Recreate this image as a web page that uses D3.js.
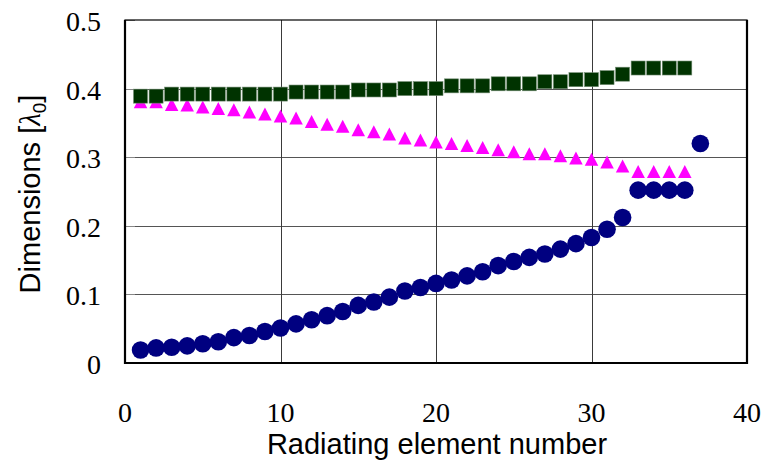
<!DOCTYPE html>
<html>
<head>
    <script src="https://cdnjs.cloudflare.com/ajax/libs/d3/7.8.5/d3.min.js"></script>
    <style>
        body { margin: 0; background: #fff; }
        .tick-label { font-size: 28px; fill: #000; }
        .axis-title { font-family: "Liberation Sans", Arial, sans-serif; font-size: 29px; fill: #000; }
        .grid { stroke: #3a3a3a; stroke-width: 1px; shape-rendering: crispEdges; }
    </style>
</head>
<body>
    <div id="chart"></div>
    <script>
        const width = 764, height = 463;
        const margin = { top: 20, right: 17, bottom: 100, left: 125 };

        // element numbers
        const elemCircle = [1,2,3,4,5,6,7,8,9,10,11,12,13,14,15,16,17,18,19,20,21,22,23,24,25,26,27,28,29,30,31,32,33,34,35,36,37];
        const elemOther = [1,2,3,4,5,6,7,8,9,10,11,12,13,14,15,16,17,18,19,20,21,22,23,24,25,26,27,28,29,30,31,32,33,34,35,36];

        // dimensions in wavelengths
        const circleVals = [0.019,0.022,0.023,0.025,0.028,0.031,0.037,0.040,0.046,0.051,0.057,0.063,0.069,0.075,0.084,0.089,0.096,0.105,0.110,0.116,0.121,0.127,0.133,0.142,0.148,0.154,0.159,0.166,0.174,0.183,0.195,0.212,0.252,0.252,0.252,0.252,0.320];
        const triangleVals = [0.381,0.381,0.377,0.376,0.373,0.371,0.369,0.366,0.363,0.360,0.357,0.352,0.348,0.345,0.340,0.337,0.334,0.328,0.325,0.322,0.320,0.317,0.314,0.311,0.308,0.305,0.305,0.302,0.299,0.297,0.293,0.287,0.279,0.279,0.279,0.279];
        const squareVals = [0.389,0.389,0.392,0.392,0.392,0.392,0.392,0.392,0.392,0.392,0.395,0.395,0.395,0.395,0.398,0.398,0.398,0.400,0.400,0.400,0.404,0.404,0.404,0.407,0.407,0.407,0.410,0.410,0.413,0.413,0.416,0.421,0.430,0.430,0.430,0.430];

        const xTicks = [0, 10, 20, 30, 40];
        const yTicks = [0, 0.1, 0.2, 0.3, 0.4, 0.5];

        const svg = d3.select("#chart").append("svg").attr("width", width).attr("height", height);

        const x = d3.scaleLinear().domain([0, 40]).range([margin.left, width - margin.right]);
        const y = d3.scaleLinear().domain([0, 0.5]).range([height - margin.bottom, margin.top]);

        // grid
        svg.append("g").selectAll("line").data(yTicks.slice(1, -1)).enter().append("line")
            .attr("class", "grid")
            .attr("x1", x(0)).attr("x2", x(40))
            .attr("y1", d => Math.round(y(d)) + 0.5).attr("y2", d => Math.round(y(d)) + 0.5)
            .style("stroke", "#555");
        svg.append("g").selectAll("line").data(xTicks.slice(1, -1)).enter().append("line")
            .attr("class", "grid")
            .attr("x1", d => Math.round(x(d)) + 0.5).attr("x2", d => Math.round(x(d)) + 0.5)
            .attr("y1", y(0.5)).attr("y2", y(0));

        // y tick marks (inside)
        svg.append("g").selectAll("line").data(yTicks).enter().append("line")
            .attr("x1", x(0)).attr("x2", x(0) + 10)
            .attr("y1", d => Math.round(y(d)) + 0.5).attr("y2", d => Math.round(y(d)) + 0.5)
            .attr("stroke", "#888").attr("stroke-width", 1);

        // frame
        svg.append("rect")
            .attr("x", x(0)).attr("y", y(0.5))
            .attr("width", x(40) - x(0)).attr("height", y(0) - y(0.5))
            .attr("fill", "none").attr("stroke", "#000").attr("stroke-width", 1.2);
        svg.append("path")
            .attr("d", `M${x(0)},${y(0.5)}V${y(0)}H${x(40)}V${y(0.5)}`)
            .attr("fill", "none").attr("stroke", "#000").attr("stroke-width", 2.2);

        // tick labels
        const serif = "'Liberation Serif', 'Times New Roman', serif";
        svg.append("g").selectAll("text").data(yTicks).enter().append("text")
            .attr("class", "tick-label")
            .attr("font-family", serif)
            .attr("x", 101).attr("y", d => y(d) + 11)
            .attr("text-anchor", "end")
            .text(d => d === 0 ? "0" : d3.format(".1f")(d));
        svg.append("g").selectAll("text").data(xTicks).enter().append("text")
            .attr("class", "tick-label")
            .attr("font-family", serif)
            .attr("x", d => x(d)).attr("y", 422)
            .attr("text-anchor", "middle")
            .text(d => d);

        // axis titles
        svg.append("text").attr("class", "axis-title")
            .attr("x", (x(0) + x(40)) / 2 + 1).attr("y", 454)
            .attr("text-anchor", "middle")
            .text("Radiating element number");

        const yTitle = svg.append("text").attr("class", "axis-title")
            .attr("transform", "translate(40,194) rotate(-90)")
            .attr("text-anchor", "middle");
        yTitle.append("tspan").text("Dimensions [");
        yTitle.append("tspan").attr("font-family", serif).attr("font-style", "italic").text("λ");
        yTitle.append("tspan").attr("font-size", "19px").attr("dy", 6).text("0");
        yTitle.append("tspan").attr("dy", -6).text("]");

        // series
        const circles = elemCircle.map((e, i) => ({ n: e, v: circleVals[i] }));
        const triangles = elemOther.map((e, i) => ({ n: e, v: triangleVals[i] }));
        const squares = elemOther.map((e, i) => ({ n: e, v: squareVals[i] }));

        svg.append("g").selectAll("circle").data(circles).enter().append("circle")
            .attr("cx", d => x(d.n)).attr("cy", d => y(d.v))
            .attr("r", 8.8)
            .attr("fill", "#000080");

        const tw = 13.5, th = 13;
        svg.append("g").selectAll("path").data(triangles).enter().append("path")
            .attr("d", `M0,${-th / 2}L${tw / 2},${th / 2}L${-tw / 2},${th / 2}Z`)
            .attr("transform", d => `translate(${x(d.n)},${y(d.v)})`)
            .attr("fill", "#ff00ff");

        const sq = 14;
        svg.append("g").selectAll("rect").data(squares).enter().append("rect")
            .attr("x", d => x(d.n) - sq / 2).attr("y", d => y(d.v) - sq / 2)
            .attr("width", sq).attr("height", sq)
            .attr("fill", "#003300")
            .attr("stroke", "#6f8a6f").attr("stroke-width", 0.6);
    </script>
</body>
</html>
